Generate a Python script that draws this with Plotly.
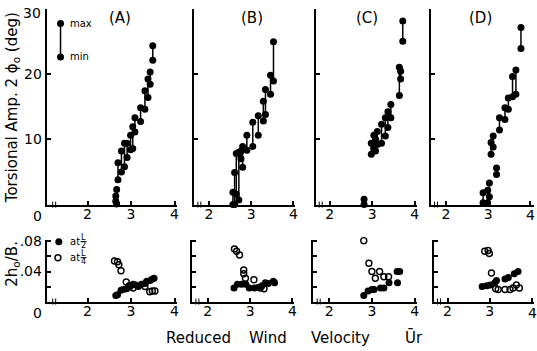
import plotly.graph_objects as go

W, H = 537, 351
# the captured page is offset/squashed vertically (measured): shown_y ~= Y_OFF + Y_SCALE * layout_y
Y_OFF, Y_SCALE = 7.0, 0.98


def px(x):
    return x / W


def py(y):
    return 1 - ((y - Y_OFF) / Y_SCALE) / H


# ---------------- data ----------------
# Top row: torsional amplitude 2*phi0 (deg): pairs (Ur, max, min)
A_x = [2.65, 2.67, 2.70, 2.78, 2.85, 2.91, 2.99, 3.04, 3.09, 3.22, 3.32, 3.39, 3.44, 3.50]
A_max = [1.3, 2.3, 6.4, 8.2, 9.4, 9.4, 10.6, 11.9, 13.3, 14.8, 17.4, 19.2, 20.3, 24.3]
A_min = [0.5, 0.1, 3.8, 5.0, 5.8, 7.2, 8.4, 8.6, 11.1, 12.7, 14.6, 16.4, 18.4, 22.1]

B_x = [2.57, 2.61, 2.65, 2.71, 2.76, 2.80, 2.90, 3.04, 3.17, 3.29, 3.34, 3.46, 3.53]
B_max = [1.9, 4.9, 7.8, 8.0, 8.2, 8.9, 10.6, 12.6, 13.6, 15.8, 17.6, 19.8, 24.9]
B_min = [0.0, 0.0, 1.6, 0.7, 7.0, 5.7, 8.3, 8.9, 10.6, 12.8, 13.8, 16.9, 18.9]

C_x = [2.81, 2.98, 3.04, 3.08, 3.12, 3.22, 3.31, 3.37, 3.44, 3.64, 3.67, 3.72]
C_max = [0.8, 9.4, 10.6, 10.0, 11.2, 12.3, 13.3, 14.2, 15.3, 21.0, 20.4, 28.1]
C_min = [0.0, 7.7, 8.7, 8.2, 9.2, 9.4, 10.5, 11.8, 13.3, 16.7, 19.2, 25.0]

D_x = [2.88, 2.99, 3.03, 3.07, 3.12, 3.20, 3.27, 3.40, 3.48, 3.58, 3.66, 3.78]
D_max = [1.8, 2.2, 3.3, 9.5, 10.5, 5.6, 13.3, 14.8, 16.3, 19.6, 20.6, 27.1]
D_min = [0.3, 0.3, 1.2, 7.7, 8.8, 4.6, 11.4, 13.0, 14.6, 16.5, 16.9, 23.9]

# Bottom row: 2h0/B ; filled = at L/2, open = at L/4
A_h_x = [2.65, 2.69, 2.77, 2.82, 2.90, 2.98, 3.05, 3.11, 3.17, 3.24, 3.32, 3.36, 3.44, 3.49, 3.53]
A_h_y = [0.008, 0.009, 0.015, 0.016, 0.017, 0.020, 0.023, 0.022, 0.020, 0.023, 0.024, 0.027, 0.028, 0.030, 0.031]
A_q_x = [2.62, 2.69, 2.72, 2.77, 2.89, 2.96, 3.05, 3.32, 3.43, 3.49, 3.55]
A_q_y = [0.054, 0.053, 0.049, 0.041, 0.026, 0.021, 0.018, 0.020, 0.013, 0.014, 0.014]

B_h_x = [2.62, 2.70, 2.80, 2.90, 2.98, 3.10, 3.20, 3.28, 3.36, 3.43, 3.55, 3.58]
B_h_y = [0.018, 0.023, 0.023, 0.023, 0.018, 0.018, 0.019, 0.021, 0.025, 0.024, 0.027, 0.025]
B_q_x = [2.63, 2.68, 2.75, 2.85, 2.85, 2.89, 3.09, 3.24, 3.33]
B_q_y = [0.070, 0.067, 0.062, 0.042, 0.037, 0.031, 0.029, 0.018, 0.017]

C_h_x = [2.81, 2.91, 3.00, 3.05, 3.20, 3.28, 3.40, 3.60, 3.59, 3.65]
C_h_y = [0.008, 0.014, 0.016, 0.016, 0.018, 0.018, 0.025, 0.025, 0.040, 0.040]
C_q_x = [2.81, 2.93, 3.00, 3.08, 3.18, 3.28, 3.39]
C_q_y = [0.081, 0.051, 0.040, 0.031, 0.040, 0.033, 0.033]

D_h_x = [2.82, 2.93, 3.01, 3.12, 3.16, 3.36, 3.44, 3.58, 3.67]
D_h_y = [0.020, 0.021, 0.022, 0.025, 0.028, 0.030, 0.032, 0.037, 0.040]
D_q_x = [2.88, 2.96, 2.99, 3.04, 3.14, 3.20, 3.36, 3.48, 3.55, 3.63, 3.70]
D_q_y = [0.067, 0.068, 0.064, 0.038, 0.017, 0.016, 0.016, 0.016, 0.018, 0.022, 0.018]

x_ticks = [2, 3, 4]
x_tick_text = ["2", "3", "4"]
top_y_ticks = [10, 20, 30]
top_y_text = ["10", "20", "30"]
bot_y_ticks = [0.04, 0.08]
bot_y_text = [".04", ".08"]
bot_y_minor = [0.02, 0.06]
panel_labels = ["(A)", "(B)", "(C)", "(D)"]

FONT = "DejaVu Sans"
fig = go.Figure()

top = [(A_x, A_max, A_min), (B_x, B_max, B_min), (C_x, C_max, C_min), (D_x, D_max, D_min)]
for i, (xs, mx, mn) in enumerate(top):
    sfx = "" if i == 0 else str(i + 1)
    lx, ly = [], []
    for x, a, b in zip(xs, mx, mn):
        lx += [x, x, None]
        ly += [b, a, None]
    fig.add_trace(go.Scatter(x=lx, y=ly, mode="lines+markers", xaxis="x" + sfx, yaxis="y" + sfx,
                             line=dict(color="black", width=1.5),
                             marker=dict(color="black", size=7),
                             cliponaxis=False, showlegend=False, hoverinfo="skip"))

bottom = [(A_h_x, A_h_y, A_q_x, A_q_y), (B_h_x, B_h_y, B_q_x, B_q_y),
          (C_h_x, C_h_y, C_q_x, C_q_y), (D_h_x, D_h_y, D_q_x, D_q_y)]
for i, (hx, hy, qx, qy) in enumerate(bottom):
    sfx = str(i + 5)
    fig.add_trace(go.Scatter(x=hx, y=hy, mode="markers", xaxis="x" + sfx, yaxis="y" + sfx,
                             marker=dict(color="black", size=7), cliponaxis=False,
                             showlegend=False, hoverinfo="skip"))
    fig.add_trace(go.Scatter(x=qx, y=qy, mode="markers", xaxis="x" + sfx, yaxis="y" + sfx,
                             marker=dict(symbol="circle-open", color="black", size=6,
                                         line=dict(width=1.4, color="black")),
                             cliponaxis=False, showlegend=False, hoverinfo="skip"))

# legend glyphs (max/min) in panel A
fig.add_trace(go.Scatter(x=[1.38, 1.38], y=[27.7, 22.6], mode="lines+markers", xaxis="x", yaxis="y",
                         line=dict(color="black", width=1.5), marker=dict(color="black", size=7),
                         showlegend=False, hoverinfo="skip", cliponaxis=False))
# legend glyphs in bottom A
fig.add_trace(go.Scatter(x=[1.34], y=[0.0796], mode="markers", xaxis="x5", yaxis="y5",
                         marker=dict(color="black", size=7), showlegend=False, hoverinfo="skip",
                         cliponaxis=False))
fig.add_trace(go.Scatter(x=[1.32], y=[0.0583], mode="markers", xaxis="x5", yaxis="y5",
                         marker=dict(symbol="circle-open", color="black", size=6,
                                     line=dict(width=1.4, color="black")),
                         showlegend=False, hoverinfo="skip", cliponaxis=False))

top_dom = [(47, 178), (195, 297), (318, 419), (433, 537)]
top_rng = [(1.063, 4.057), (1.647, 4.047), (1.684, 4.047), (1.633, 4.09)]
bot_dom = [(47, 178), (193, 296), (315, 419), (436, 537)]
bot_rng = [(1.063, 4.057), (1.624, 4.047), (1.628, 4.047), (1.67, 4.047)]

axcommon = dict(showline=True, linecolor="black", linewidth=2, ticks="inside", ticklen=4,
                tickwidth=1.5, tickcolor="black", showgrid=False, zeroline=False,
                tickfont=dict(family=FONT, size=14, color="black"), fixedrange=True)
minor_common = dict(ticks="inside", ticklen=4, tickwidth=1.5, tickcolor="black", showgrid=False)

layout = dict(width=W, height=H, autosize=False, margin=dict(l=0, r=0, t=0, b=0),
              paper_bgcolor="white", plot_bgcolor="white", showlegend=False)

for i in range(4):
    sfx = "" if i == 0 else str(i + 1)
    k = "" if i == 0 else str(i + 1)
    # the last panel's "4" sits at the page edge: tick mark as minor tick, label as annotation
    tv = x_ticks if i < 3 else x_ticks[:2]
    tt = x_tick_text if i < 3 else x_tick_text[:2]
    xa = dict(axcommon, domain=[px(top_dom[i][0]), px(top_dom[i][1])], range=list(top_rng[i]),
              anchor="y" + sfx, tickvals=tv, ticktext=tt, ticklabelstandoff=-4)
    if i == 3:
        xa["minor"] = dict(minor_common, tickvals=x_ticks[2:])
    layout["xaxis" + k] = xa
    # the "30" label would fall above the visible area: draw it as an annotation instead
    layout["yaxis" + k] = dict(axcommon, domain=[py(205), py(9.5)], range=[0, 30],
                               anchor="x" + sfx, tickvals=top_y_ticks[:2], ticktext=top_y_text[:2],
                               minor=dict(minor_common, tickvals=top_y_ticks[2:]),
                               showticklabels=(i == 0))
    b = str(i + 5)
    xb = dict(axcommon, domain=[px(bot_dom[i][0]), px(bot_dom[i][1])], range=list(bot_rng[i]),
              anchor="y" + b, tickvals=tv, ticktext=tt, ticklabelstandoff=-4)
    if i == 3:
        xb["minor"] = dict(minor_common, tickvals=x_ticks[2:])
    layout["xaxis" + b] = xb
    layout["yaxis" + b] = dict(axcommon, domain=[py(301.7), py(240)], range=[0, 0.0823],
                               anchor="x" + b, tickvals=bot_y_ticks, ticktext=bot_y_text,
                               minor=dict(minor_common, tickvals=bot_y_minor),
                               showticklabels=(i == 0))

fig.update_layout(**layout)

ann = []


def text(x, y, t, size=14, angle=0, xanchor="center"):
    ann.append(dict(x=px(x), y=py(y), xref="paper", yref="paper", text=t, showarrow=False,
                    font=dict(family=FONT, size=size, color="black"), textangle=angle,
                    xanchor=xanchor, yanchor="middle"))


for lab, cx in zip(panel_labels, [121, 253, 369, 483]):
    text(cx, 19, lab, 15)

text(43, 14, top_y_text[2], xanchor="right")
text(38, 216, "0")
text(38, 313, "0")
text(533, 215.5, x_tick_text[2])
text(535, 313, x_tick_text[2])
text(12, 108, "Torsional Amp. 2 ϕ<sub>o</sub> (deg)", 15, -90)
text(13, 264, "2h<sub>o</sub>/B.", 15, -90)
text(68, 24, "max", 10, xanchor="left")
text(68, 57, "min", 10, xanchor="left")
text(68, 242, "at", 10, xanchor="left")
text(68, 258, "at", 10, xanchor="left")
text(84, 238, "L", 8)
text(84, 246, "2", 8)
text(84, 254, "L", 8)
text(84, 262, "4", 8)
text(200, 338, "Reduced", 15)
text(270, 338, "Wind", 15)
text(342, 338, "Velocity", 15)
text(416, 338, "Ūr", 15)
fig.update_layout(annotations=ann)

shapes = []
for yy in (242, 258):
    shapes.append(dict(type="line", xref="paper", yref="paper", x0=px(81), x1=px(87),
                       y0=py(yy), y1=py(yy), line=dict(color="black", width=1)))
# axis break marks
for bx, by in [(53, 205), (199, 205), (321, 205), (437, 205),
               (53, 301.7), (197, 301.7), (319, 301.7), (440, 301.7)]:
    for dx in (0, 3):
        shapes.append(dict(type="line", xref="paper", yref="paper", x0=px(bx + dx), x1=px(bx + dx),
                           y0=py(by - 3), y1=py(by + 3), line=dict(color="black", width=1)))
fig.update_layout(shapes=shapes)

post = ("document.documentElement.style.margin='0';"
        "document.body.style.margin='0';document.body.style.padding='0';"
        "document.body.style.overflow='hidden';"
        "var gd=document.getElementById('{plot_id}');"
        "gd.style.position='absolute';gd.style.left='0px';gd.style.top='0px';")
fig.write_html("out.html", post_script=post, config={"displayModeBar": False})
